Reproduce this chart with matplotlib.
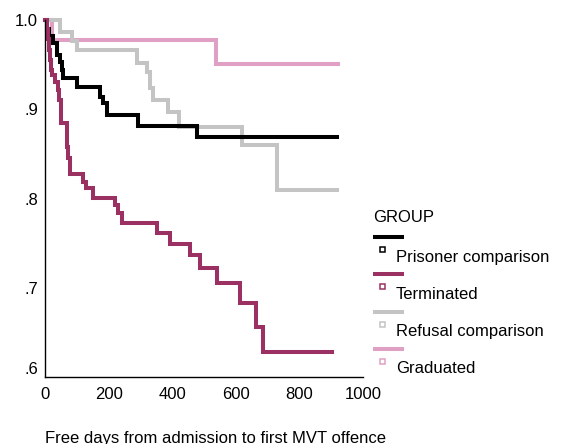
import matplotlib.pyplot as plt

plt.rcParams['font.family'] = ['Liberation Sans', 'DejaVu Sans']

# survival estimates (days, cumulative survival) per group
prisoner_days = [0, 5, 12, 24, 37, 47, 53, 58, 100, 173, 183, 194, 293, 477, 918]
prisoner_surv = [1.0, 0.99, 0.982, 0.974, 0.961, 0.953, 0.944, 0.935, 0.925,
                 0.914, 0.907, 0.894, 0.881, 0.869, 0.869]

terminated_days = [0, 5, 10, 14, 16, 18, 21, 31, 42, 45, 50, 68, 73, 79, 121, 130,
                   152, 220, 231, 241, 352, 393, 456, 488, 540, 612, 664, 685, 902]
terminated_surv = [1.0, 0.99, 0.979, 0.966, 0.955, 0.944, 0.938, 0.93, 0.922, 0.91,
                   0.885, 0.858, 0.845, 0.828, 0.818, 0.812, 0.801, 0.793, 0.784,
                   0.772, 0.761, 0.749, 0.737, 0.722, 0.705, 0.683, 0.656, 0.628, 0.628]

refusal_days = [0, 47, 84, 100, 289, 320, 330, 341, 388, 420, 619, 729, 918]
refusal_surv = [1.0, 0.987, 0.977, 0.966, 0.952, 0.942, 0.924, 0.910, 0.897,
                0.880, 0.860, 0.809, 0.809]

graduated_days = [0, 21, 538, 922]
graduated_surv = [1.0, 0.978, 0.951, 0.951]

groups = ['Prisoner comparison', 'Terminated', 'Refusal comparison', 'Graduated']
colors = ['#000000', '#9b3163', '#c4c4c4', '#e0a0c4']
series = [(prisoner_days, prisoner_surv), (terminated_days, terminated_surv),
          (refusal_days, refusal_surv), (graduated_days, graduated_surv)]

fig = plt.figure(figsize=(5.62, 4.44), dpi=100)
W, H = 562, 444
ax = fig.add_axes([45 / W, (H - 377) / H, 318 / W, 357 / H])

# draw back to front like the original
for i in [3, 2, 0, 1]:
    d, s = series[i]
    ax.step(d, s, where='post', color=colors[i], lw=2.9,
            solid_joinstyle='miter', clip_on=False)

ax.set_xlim(0, 1000)
ax.set_ylim(0.6, 1.0)
ax.set_xticks([0, 200, 400, 600, 800, 1000])
ax.set_yticks([0.6, 0.7, 0.8, 0.9, 1.0])
ax.set_yticklabels(['.6', '.7', '.8', '.9', '1.0'])
ax.tick_params(length=0, labelsize=12)
ax.tick_params(axis='y', pad=5)
ax.tick_params(axis='x', pad=7)
ax.get_yticklabels()[0].set_va('bottom')
for sp in ['top', 'right']:
    ax.spines[sp].set_visible(False)
for sp in ['left', 'bottom']:
    ax.spines[sp].set_linewidth(1.0)

fig.text(45 / W, 1 - 438 / H, 'Free days from admission to first MVT offence',
         fontsize=12, ha='left', va='center')

# legend (SPSS style: line sample then marker + label)
lax = fig.add_axes([0, 0, 1, 1])
lax.set_xlim(0, W)
lax.set_ylim(H, 0)
lax.axis('off')
lax.text(373, 217, 'GROUP', fontsize=12, va='center', ha='left')
for i, name in enumerate(groups):
    y0 = 237 + i * 37.3
    lax.plot([373, 404], [y0, y0], color=colors[i], lw=2.9, solid_capstyle='butt')
    lax.plot([382], [y0 + 12], marker='s', ms=3.6, mfc='white', mec=colors[i], mew=1.1)
    lax.text(396, y0 + 20, name, fontsize=12, va='center', ha='left')

fig.savefig('out.png', dpi=100)
